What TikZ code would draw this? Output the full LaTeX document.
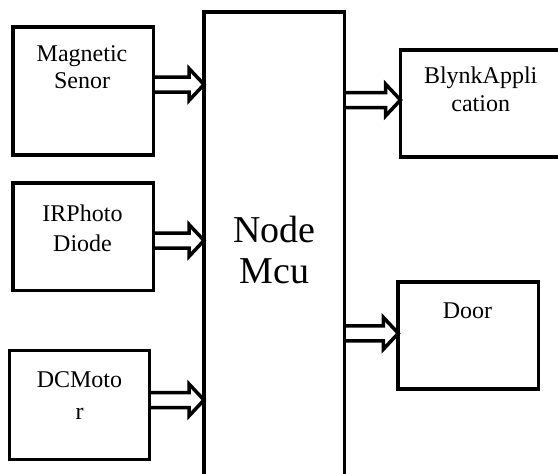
\documentclass[tikz,border=0pt]{standalone}
\usepackage{fontspec}
\setmainfont{Liberation Serif}
\usetikzlibrary{calc}
\begin{document}
\begin{tikzpicture}[x=1pt,y=-1pt,
  box/.style={draw, line width=3.8pt, outer sep=0pt, inner sep=0pt},
  lbl/.style={align=center, anchor=north, inner sep=0pt},
  fat/.style={line width=3.5pt, line join=miter, to path={
    let \p1=(\tikztostart), \p2=(\tikztotarget) in
    (\x1,\y1+7.5pt) -- (\x2-15pt,\y1+7.5pt) -- (\x2-15pt,\y1+16pt) --
    (\x2,\y1) -- (\x2-15pt,\y1-16pt) -- (\x2-15pt,\y1-7.5pt) -- (\x1,\y1-7.5pt)}}]
\fill[white] (0,0) rectangle (558,474);
\useasboundingbox (0,0) rectangle (558,474);

% boxes
\node[box, minimum width=140.5pt, minimum height=128pt] (mag) at (83.25,91) {};
\node[box, minimum width=140.5pt, minimum height=107.5pt] (ir) at (83.25,236.75) {};
\node[box, minimum width=140pt, minimum height=109pt] (dc) at (79.5,405) {};
\node[box, minimum width=140.5pt, minimum height=478pt] (main) at (274.25,251) {};
\node[box, minimum width=167.5pt, minimum height=107.1pt] (blynk) at (484.25,103.25) {};
\node[box, minimum width=140.2pt, minimum height=107.5pt] (door) at (468.4,335.45) {};

% texts
\node[lbl, font=\fontsize{24}{27.6}\selectfont] (tmag) at (82,45.3) {Magnetic\\Senor};
\node[lbl, font=\fontsize{24}{30}\selectfont] (tir) at (82.5,204.6) {IRPhoto\\Diode};
\node[lbl, font=\fontsize{24}{32}\selectfont] (tdc) at (79.5,371.1) {DCMoto\\r};
\node[lbl, font=\fontsize{24}{27.4}\selectfont] (tblynk) at (480.7,66.9) {BlynkAppli\\cation};
\node[lbl, font=\fontsize{24}{28}\selectfont] (tdoor) at (467.5,302.4) {Door};
\node[lbl, font=\fontsize{38}{41.6}\selectfont] (tmain) at (274.25,215.7) {Node\\Mcu};

% arrow levels
\coordinate (ymag) at (0,84.5);
\coordinate (yir) at (0,240.5);
\coordinate (ydc) at (0,400);
\coordinate (yblynk) at (0,100);
\coordinate (ydoor) at (0,333.3);

% connectors
\draw[fat] (mag.east |- ymag) to (main.west |- ymag);
\draw[fat] (ir.east |- yir) to (main.west |- yir);
\draw[fat] (dc.east |- ydc) to (main.west |- ydc);
\draw[fat] (main.east |- yblynk) to (blynk.west |- yblynk);
\draw[fat] (main.east |- ydoor) to (door.west |- ydoor);
\end{tikzpicture}
\end{document}
